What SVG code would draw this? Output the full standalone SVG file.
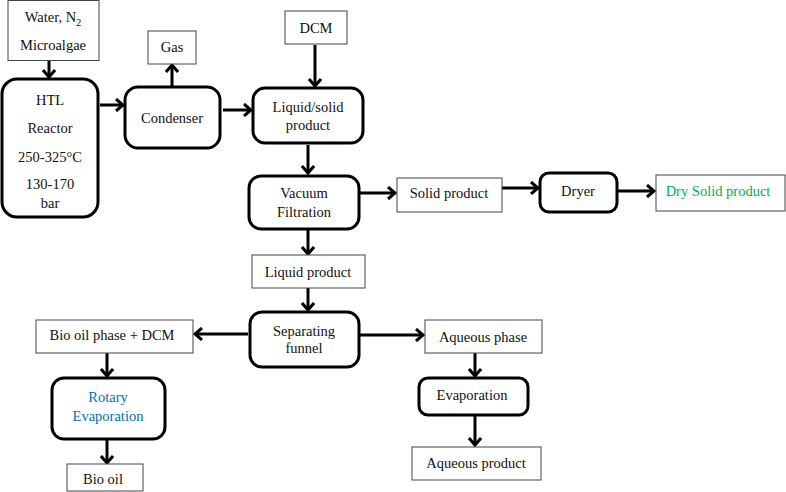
<svg xmlns="http://www.w3.org/2000/svg" width="786" height="492" viewBox="0 0 786 492" font-family="'Liberation Serif', 'Times New Roman', 'DejaVu Serif', serif">
<style>
text{font-family:'Liberation Serif','Times New Roman','DejaVu Serif',serif;font-size:14.5px;fill:#111;text-anchor:middle}
.box{fill:#fff;stroke:#444;stroke-width:1}
.rbox{fill:#fff;stroke:#000;stroke-width:3}
.arr{stroke:#000;stroke-width:3;fill:none;marker-end:url(#ah)}
.green{fill:#00b050}
.blue{fill:#0070c0}
</style>
<defs>
<marker id="ah" markerUnits="userSpaceOnUse" viewBox="0 0 10 14" markerWidth="10" markerHeight="14" refX="8" refY="7" orient="auto">
<path d="M1,1 L8,7 L1,13" fill="none" stroke="#000" stroke-width="3"/>
</marker>
</defs>
<rect width="786" height="492" fill="#fff"/>
<g id="connectors">
<line class="arr" x1="49" y1="61" x2="49" y2="77"/>
<line class="arr" x1="100" y1="105" x2="123" y2="105"/>
<line class="arr" x1="172" y1="86" x2="172" y2="65"/>
<line class="arr" x1="223" y1="110" x2="251" y2="110"/>
<line class="arr" x1="315" y1="45" x2="315" y2="86"/>
<line class="arr" x1="308" y1="145" x2="308" y2="173"/>
<line class="arr" x1="360" y1="193" x2="395" y2="193"/>
<line class="arr" x1="502" y1="188" x2="538" y2="188"/>
<line class="arr" x1="618" y1="191" x2="654" y2="191"/>
<line class="arr" x1="308" y1="230" x2="308" y2="254"/>
<line class="arr" x1="308" y1="288" x2="308" y2="310"/>
<line class="arr" x1="360" y1="335" x2="423" y2="335"/>
<line class="arr" x1="248" y1="334" x2="195" y2="334"/>
<line class="arr" x1="475" y1="353" x2="475" y2="376"/>
<line class="arr" x1="475" y1="416" x2="475" y2="445"/>
<line class="arr" x1="107" y1="353" x2="107" y2="376"/>
<line class="arr" x1="107" y1="440" x2="107" y2="463"/>
</g>
<g id="water">
<rect class="box" x="8" y="0.5" width="91" height="60"/>
<text x="53" y="22">Water, N<tspan font-size="10" dy="4">2</tspan></text>
<text x="53" y="50">Microalgae</text>
</g>
<g id="reactor">
<rect class="rbox" x="2" y="79" width="96" height="138" rx="15"/>
<text x="50" y="105">HTL</text>
<text x="50" y="133">Reactor</text>
<text x="50" y="162">250-325°C</text>
<text x="50" y="189">130-170</text>
<text x="50" y="208">bar</text>
</g>
<g id="gas">
<rect class="box" x="148" y="31" width="48" height="33"/>
<text x="172" y="52">Gas</text>
</g>
<g id="condenser">
<rect class="rbox" x="125" y="87" width="95" height="61" rx="13"/>
<text x="172" y="123">Condenser</text>
</g>
<g id="dcm">
<rect class="box" x="285" y="11" width="62" height="33"/>
<text x="316" y="33">DCM</text>
</g>
<g id="liquidsolid">
<rect class="rbox" x="253" y="88" width="110" height="55" rx="12"/>
<text x="308" y="112">Liquid/solid</text>
<text x="308" y="130">product</text>
</g>
<g id="vacuum">
<rect class="rbox" x="249" y="176" width="110" height="53" rx="12"/>
<text x="304" y="198">Vacuum</text>
<text x="304" y="217">Filtration</text>
</g>
<g id="solid">
<rect class="box" x="397" y="178" width="105" height="34"/>
<text x="449" y="198">Solid product</text>
</g>
<g id="dryer">
<rect class="rbox" x="540" y="173" width="77" height="39" rx="9"/>
<text x="578" y="196">Dryer</text>
</g>
<g id="drysolid">
<rect class="box" x="656" y="175" width="129" height="36"/>
<text class="green" x="718" y="196">Dry Solid product</text>
</g>
<g id="liquid">
<rect class="box" x="252" y="255" width="113" height="33"/>
<text x="308" y="277">Liquid product</text>
</g>
<g id="funnel">
<rect class="rbox" x="250" y="312" width="109" height="55" rx="12"/>
<text x="304" y="336">Separating</text>
<text x="304" y="353">funnel</text>
</g>
<g id="aqueous">
<rect class="box" x="425" y="320" width="117" height="33"/>
<text x="483" y="342">Aqueous phase</text>
</g>
<g id="evaporation">
<rect class="rbox" x="419" y="378" width="109" height="37" rx="9"/>
<text x="472" y="400">Evaporation</text>
</g>
<g id="aqproduct">
<rect class="box" x="412" y="447" width="129" height="33"/>
<text x="476" y="468">Aqueous product</text>
</g>
<g id="biooilphase">
<rect class="box" x="36" y="320" width="157" height="33"/>
<text x="112" y="340">Bio oil phase + DCM</text>
</g>
<g id="rotary">
<rect class="rbox" x="52" y="378" width="113" height="61" rx="12"/>
<text class="blue" x="108" y="402">Rotary</text>
<text class="blue" x="108" y="421">Evaporation</text>
</g>
<g id="biooil">
<rect class="box" x="67" y="464" width="76" height="27"/>
<text x="103" y="484">Bio oil</text>
</g>
</svg>
